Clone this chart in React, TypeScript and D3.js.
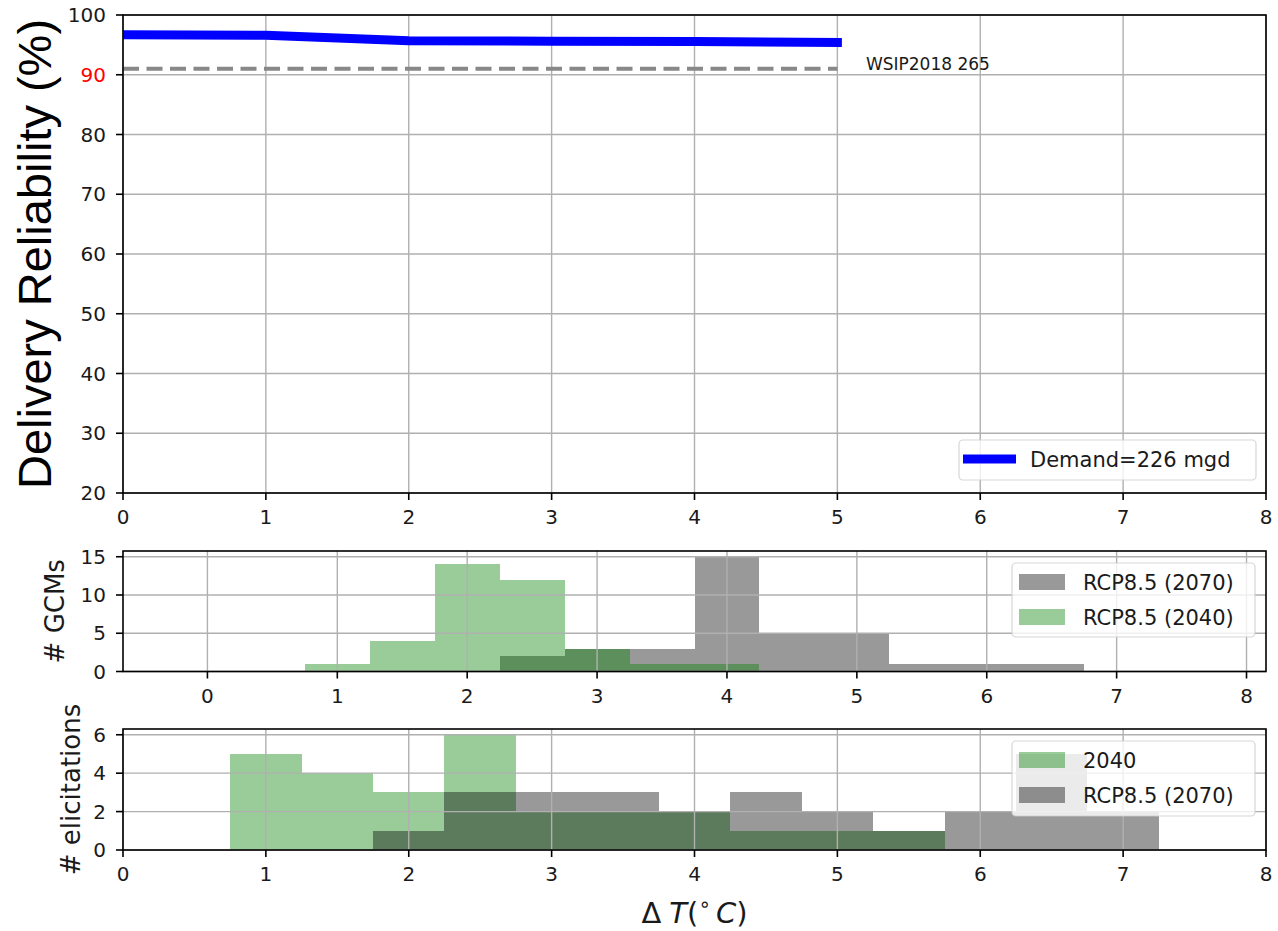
import { useEffect, useRef } from 'react';
import * as d3 from 'd3';

// Top panel: delivery reliability against warming
const deltaT = [0, 1, 2, 3, 4, 5];
const reliability = [96.7, 96.6, 95.7, 95.6, 95.55, 95.4];
const demandLabel = 'Demand=226 mgd';

// WSIP reference level (dashed)
const wsipX = [0, 5];
const wsipLevel = 91;
const wsipLabel = 'WSIP2018 265';
const wsipLabelAt = [5.2, 90.8];

const topXTicks = [0, 1, 2, 3, 4, 5, 6, 7, 8];
const topYTicks = [20, 30, 40, 50, 60, 70, 80, 90, 100];

// Middle panel: GCM projections histogram
const gcmEdges = [-0.25, 0.25, 0.75, 1.25, 1.75, 2.25, 2.75, 3.25, 3.75, 4.25, 4.75, 5.25, 5.75, 6.25, 6.75, 7.25, 7.75];
const gcm2070 = [0, 0, 0, 0, 0, 2, 3, 3, 15, 5, 5, 1, 1, 1, 0, 0];
const gcm2040 = [0, 0, 1, 4, 14, 12, 3, 1, 1, 0, 0, 0, 0, 0, 0, 0];
const gcmXTicks = [0, 1, 2, 3, 4, 5, 6, 7, 8];
const gcmYTicks = [0, 5, 10, 15];

// Bottom panel: expert elicitations histogram
const elicEdges = [0.75, 1.25, 1.75, 2.25, 2.75, 3.25, 3.75, 4.25, 4.75, 5.25, 5.75, 6.25, 6.75, 7.25];
const elic2040 = [5, 4, 3, 6, 2, 2, 2, 1, 1, 1, 0, 0, 0];
const elic2070 = [0, 0, 1, 3, 3, 3, 2, 3, 2, 1, 2, 5, 2];
const elicXTicks = [0, 1, 2, 3, 4, 5, 6, 7, 8];
const elicYTicks = [0, 2, 4, 6];

const FONT = 'DejaVu Sans, sans-serif';
const TXT = '#1a1a1a';
const GRID = '#b0b0b0';
const GREEN = '#008000';

const left = 123;
const right = 1266;

// grid, ticks, tick labels, spines for one axes box
function drawFrame(g, x, y, xTicks, yTicks, top, bottom, redTick?) {
    const grid = g.append('g');
    xTicks.forEach(t => {
        grid.append('line')
            .attr('x1', x(t)).attr('x2', x(t))
            .attr('y1', top).attr('y2', bottom)
            .attr('stroke', GRID).attr('stroke-width', 1.4);
    });
    yTicks.forEach(t => {
        grid.append('line')
            .attr('x1', left).attr('x2', right)
            .attr('y1', y(t)).attr('y2', y(t))
            .attr('stroke', GRID).attr('stroke-width', 1.4);
    });
    return () => {
        const ax = g.append('g');
        ax.append('rect')
            .attr('x', left).attr('y', top)
            .attr('width', right - left).attr('height', bottom - top)
            .attr('fill', 'none').attr('stroke', '#000').attr('stroke-width', 1.6);
        xTicks.forEach(t => {
            ax.append('line')
                .attr('x1', x(t)).attr('x2', x(t))
                .attr('y1', bottom).attr('y2', bottom + 7)
                .attr('stroke', '#000').attr('stroke-width', 1.6);
            ax.append('text')
                .attr('x', x(t)).attr('y', bottom + 31)
                .attr('text-anchor', 'middle')
                .attr('font-family', FONT).attr('font-size', 20)
                .attr('fill', TXT)
                .text(t);
        });
        yTicks.forEach(t => {
            ax.append('line')
                .attr('x1', left - 7).attr('x2', left)
                .attr('y1', y(t)).attr('y2', y(t))
                .attr('stroke', '#000').attr('stroke-width', 1.6);
            ax.append('text')
                .attr('x', left - 17).attr('y', y(t))
                .attr('dy', '0.36em')
                .attr('text-anchor', 'end')
                .attr('font-family', FONT).attr('font-size', 20)
                .attr('fill', t === redTick ? '#ff0000' : TXT)
                .text(t);
        });
    };
}

function drawHist(g, x, y, edges, counts, color) {
    g.append('g').selectAll('rect')
        .data(counts)
        .join('rect')
        .attr('x', (d, i) => Math.round(x(edges[i])))
        .attr('width', (d, i) => Math.round(x(edges[i + 1])) - Math.round(x(edges[i])))
        .attr('y', d => y(d))
        .attr('height', d => y(0) - y(d))
        .attr('shape-rendering', 'crispEdges')
        .attr('fill', color)
        .attr('fill-opacity', 0.4);
}

function drawLegend(g, x0, y0, w, h, items) {
    const lg = g.append('g');
    lg.append('rect')
        .attr('x', x0).attr('y', y0).attr('width', w).attr('height', h)
        .attr('rx', 4)
        .attr('fill', '#fff').attr('fill-opacity', 0.8)
        .attr('stroke', '#cccccc').attr('stroke-opacity', 0.8).attr('stroke-width', 1.2);
    items.forEach((it, i) => {
        const cy = y0 + 19 + i * 35;
        if (it.kind === 'line') {
            lg.append('line')
                .attr('x1', x0 + 4).attr('x2', x0 + 57)
                .attr('y1', cy).attr('y2', cy)
                .attr('stroke', it.color).attr('stroke-width', 9);
        } else {
            lg.append('rect')
                .attr('x', x0 + 7).attr('y', cy - 8)
                .attr('width', 46).attr('height', 16)
                .attr('fill', it.color).attr('fill-opacity', 0.4);
        }
        lg.append('text')
            .attr('x', x0 + 71).attr('y', cy)
            .attr('dy', '0.36em')
            .attr('font-family', FONT).attr('font-size', 21)
            .attr('fill', TXT)
            .text(it.label);
    });
}

export default function App() {
    const ref = useRef(null);

    useEffect(() => {
        const svg = d3.select(ref.current);
        svg.selectAll('*').remove();

        // ---- Top panel
        const topTop = 15, topBottom = 493;
        const xTop = d3.scaleLinear().domain([0, 8]).range([left, right]);
        const yTop = d3.scaleLinear().domain([20, 100]).range([topBottom, topTop]);
        const gTop = svg.append('g');
        const finishTop = drawFrame(gTop, xTop, yTop, topXTicks, topYTicks, topTop, topBottom, 90);

        svg.append('defs').append('clipPath').attr('id', 'topClip')
            .append('rect')
            .attr('x', left).attr('y', topTop)
            .attr('width', right - left).attr('height', topBottom - topTop);

        gTop.append('line')
            .attr('x1', xTop(wsipX[0])).attr('x2', xTop(wsipX[1]))
            .attr('y1', yTop(wsipLevel)).attr('y2', yTop(wsipLevel))
            .attr('stroke', '#888888').attr('stroke-width', 4)
            .attr('stroke-dasharray', '16,7.5');

        gTop.append('path')
            .datum(deltaT.map((t, i) => [t, reliability[i]]))
            .attr('clip-path', 'url(#topClip)')
            .attr('fill', 'none')
            .attr('stroke', '#0000ff')
            .attr('stroke-width', 9)
            .attr('stroke-linecap', 'square')
            .attr('stroke-linejoin', 'round')
            .attr('d', d3.line().x(d => xTop(d[0])).y(d => yTop(d[1])));

        gTop.append('text')
            .attr('x', xTop(wsipLabelAt[0])).attr('y', yTop(wsipLabelAt[1]))
            .attr('font-family', FONT).attr('font-size', 17)
            .attr('fill', TXT)
            .text(wsipLabel);

        finishTop();
        drawLegend(gTop, 959, 440, 297, 40, [{ kind: 'line', color: '#0000ff', label: demandLabel }]);

        gTop.append('text')
            .attr('transform', `translate(51,${(topTop + topBottom) / 2}) rotate(-90)`)
            .attr('text-anchor', 'middle')
            .attr('font-family', 'Liberation Sans, Arial, sans-serif')
            .attr('font-size', 47)
            .attr('fill', '#000')
            .text('Delivery Reliability (%)');

        // ---- Middle panel (GCMs)
        const midTop = 551, midBottom = 671.5;
        const xMid = d3.scaleLinear().domain([-0.65, 8.15]).range([left, right]);
        const yMid = d3.scaleLinear().domain([0, 15.75]).range([midBottom, midTop]);
        const gMid = svg.append('g');
        const histMid = gMid.append('g');
        drawHist(histMid, xMid, yMid, gcmEdges, gcm2070, '#000');
        drawHist(histMid, xMid, yMid, gcmEdges, gcm2040, GREEN);
        const finishMid = drawFrame(gMid, xMid, yMid, gcmXTicks, gcmYTicks, midTop, midBottom);
        finishMid();
        drawLegend(gMid, 1012, 563, 243, 74, [
            { kind: 'patch', color: '#000', label: 'RCP8.5 (2070)' },
            { kind: 'patch', color: GREEN, label: 'RCP8.5 (2040)' },
        ]);
        gMid.append('text')
            .attr('transform', `translate(64,${(midTop + midBottom) / 2}) rotate(-90)`)
            .attr('text-anchor', 'middle')
            .attr('font-family', FONT).attr('font-size', 26)
            .attr('fill', TXT)
            .text('# GCMs');

        // ---- Bottom panel (elicitations)
        const botTop = 729, botBottom = 850;
        const xBot = d3.scaleLinear().domain([0, 8]).range([left, right]);
        const yBot = d3.scaleLinear().domain([0, 6.3]).range([botBottom, botTop]);
        const gBot = svg.append('g');
        const histBot = gBot.append('g');
        drawHist(histBot, xBot, yBot, elicEdges, elic2040, GREEN);
        drawHist(histBot, xBot, yBot, elicEdges, elic2070, '#000');
        const finishBot = drawFrame(gBot, xBot, yBot, elicXTicks, elicYTicks, botTop, botBottom);
        finishBot();
        drawLegend(gBot, 1012, 741, 243, 75, [
            { kind: 'patch', color: GREEN, label: '2040' },
            { kind: 'patch', color: '#000', label: 'RCP8.5 (2070)' },
        ]);
        gBot.append('text')
            .attr('transform', `translate(80,${(botTop + botBottom) / 2}) rotate(-90)`)
            .attr('text-anchor', 'middle')
            .attr('font-family', FONT).attr('font-size', 26)
            .attr('fill', TXT)
            .text('# elicitations');

        // x label: Delta T (deg C)
        const xl = gBot.append('text')
            .attr('x', (left + right) / 2).attr('y', 923)
            .attr('text-anchor', 'middle')
            .attr('font-family', FONT).attr('font-size', 29)
            .attr('fill', TXT);
        xl.append('tspan').text('Δ');
        xl.append('tspan').attr('dx', 8).attr('font-style', 'italic').text('T');
        xl.append('tspan').text('(');
        xl.append('tspan').attr('font-size', 20).attr('dy', -12).text('∘');
        xl.append('tspan').attr('dx', 5).attr('dy', 12).attr('font-style', 'italic').text('C');
        xl.append('tspan').text(')');
    }, []);

    return (
        <svg
            ref={ref}
            width={1278}
            height={931}
            style={{ position: 'absolute', left: 0, top: 0, background: '#fff' }}
        ></svg>
    );
}
